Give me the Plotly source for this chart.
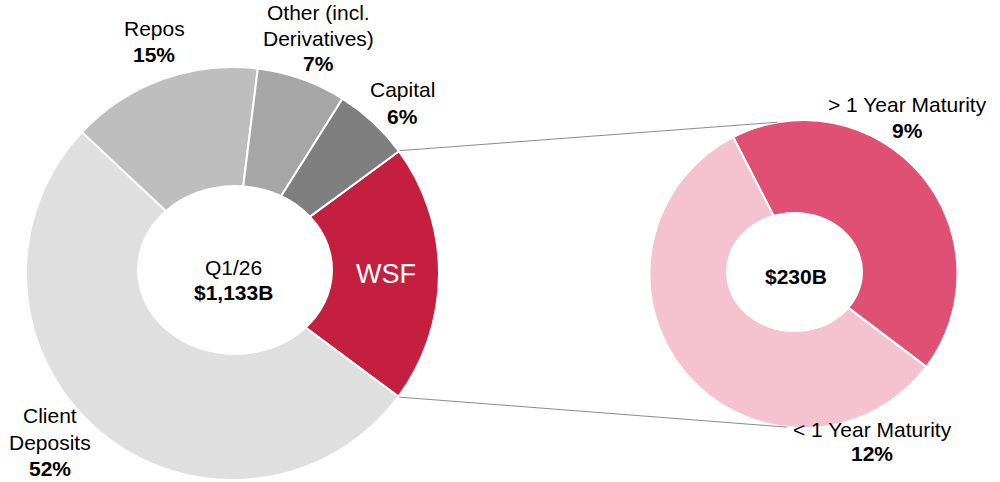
import math
import plotly.graph_objects as go

# ---------------- data ----------------
left_labels = ["WSF", "Client Deposits", "Repos", "Other (incl. Derivatives)", "Capital"]
left_label_lines = [["WSF"], ["Client", "Deposits"], ["Repos"], ["Other (incl.", "Derivatives)"], ["Capital"]]
left_values = [20.3, 52, 15, 7, 6]
left_pct_text = ["", "52%", "15%", "7%", "6%"]
left_center_period = "Q1/26"
left_center_total = "$1,133B"

right_labels = ["> 1 Year Maturity", "< 1 Year Maturity"]
right_values = [9, 12]
right_pct_text = ["9%", "12%"]
right_center_total = "$230B"

# ---------------- styles / layout ----------------
W, H = 1000, 482
FONT = "Liberation Sans, Arial, sans-serif"
FS = 21
left_colors = ["#C41F3E", "#DFDFE0", "#BEBEBE", "#A6A6A6", "#7F7F7F"]
right_colors = ["#E05074", "#F5C3CF"]

L_cx, L_cy, L_r = 232.5, 273.5, 206.5
R_cx, R_cy, R_r = 803.5, 274.0, 154.0
L_rot, R_rot = 53.7, -27.2
L_hole_c, L_hole_ax = (235, 270), (98, 85)
R_hole_c, R_hole_ax = (794.5, 272), (68.5, 60)


def domain(cx, cy, r):
    return dict(x=[(cx - r) / W, (cx + r) / W], y=[(H - cy - r) / H, (H - cy + r) / H])


def px(x, y):
    return x / W, (H - y) / H


def point_on(cx, cy, r, ang):
    a = math.radians(ang)
    return cx + r * math.sin(a), cy - r * math.cos(a)


fig = go.Figure()
fig.add_trace(go.Pie(
    labels=left_labels, values=left_values, sort=False, direction="clockwise",
    rotation=L_rot, hole=80 / L_r, textinfo="none", hoverinfo="label+value",
    marker=dict(colors=left_colors, line=dict(color="white", width=2)),
    domain=domain(L_cx, L_cy, L_r), showlegend=False,
))
fig.add_trace(go.Pie(
    labels=right_labels, values=right_values, sort=False, direction="clockwise",
    rotation=R_rot, hole=55 / R_r, textinfo="none", hoverinfo="label+value",
    marker=dict(colors=right_colors, line=dict(color="white", width=2)),
    domain=domain(R_cx, R_cy, R_r), showlegend=False,
))

shapes = []
# elliptical holes
for (hx, hy), (ax, ay) in [(L_hole_c, L_hole_ax), (R_hole_c, R_hole_ax)]:
    x0, y0 = px(hx - ax, hy + ay)
    x1, y1 = px(hx + ax, hy - ay)
    shapes.append(dict(type="circle", xref="paper", yref="paper", x0=x0, y0=y0, x1=x1, y1=y1,
                       fillcolor="white", line=dict(width=0), layer="above"))

# connector lines from WSF slice edges to the right donut
tot = sum(left_values)
wsf_start = L_rot
wsf_end = L_rot + 360 * left_values[0] / tot
for a_left, a_right in [(wsf_start, -9.8), (wsf_end, 186.0)]:
    sx, sy = point_on(L_cx, L_cy, L_r + 1, a_left)
    ex, ey = point_on(R_cx, R_cy, R_r, a_right)
    x0, y0 = px(sx, sy)
    x1, y1 = px(ex, ey)
    shapes.append(dict(type="line", xref="paper", yref="paper", x0=x0, y0=y0, x1=x1, y1=y1,
                       line=dict(color="#8C8C8C", width=1), layer="above"))

ann = []


def add_line(x, y, text, size=FS, color="black"):
    xx, yy = px(x, y)
    ann.append(dict(x=xx, y=yy, xref="paper", yref="paper", text=text, showarrow=False,
                    xanchor="center", yanchor="middle", align="center",
                    font=dict(family=FONT, size=size, color=color)))


def add_block(x, y_lines, lines):
    for y, t in zip(y_lines, lines):
        add_line(x, y, t)


# outside labels for left donut (x centre, line y centres)
left_label_pos = {1: (50, [415, 442, 468]), 2: (154, [28, 54]),
                  3: (318, [12.5, 38.5, 64]), 4: (402, [89, 116])}
for i, (x, ys) in left_label_pos.items():
    add_block(x, ys, left_label_lines[i] + [f"<b>{left_pct_text[i]}</b>"])
add_line(386, 274, left_label_lines[0][0], size=27, color="white")
add_block(233, [267.5, 292.5], [left_center_period, f"<b>{left_center_total}</b>"])

right_label_pos = {0: (907, [104, 130]), 1: (872, [429, 453])}
for i, (x, ys) in right_label_pos.items():
    add_block(x, ys, [right_labels[i], f"<b>{right_pct_text[i]}</b>"])
add_line(796, 276, f"<b>{right_center_total}</b>")

fig.update_layout(
    width=W, height=H, margin=dict(l=0, r=0, t=0, b=0),
    paper_bgcolor="white", plot_bgcolor="white",
    shapes=shapes, annotations=ann, font=dict(family=FONT),
)
fig.write_html("out.html", config={"displayModeBar": False},
               post_script="document.body.style.margin='0';document.body.style.overflow='hidden';")
